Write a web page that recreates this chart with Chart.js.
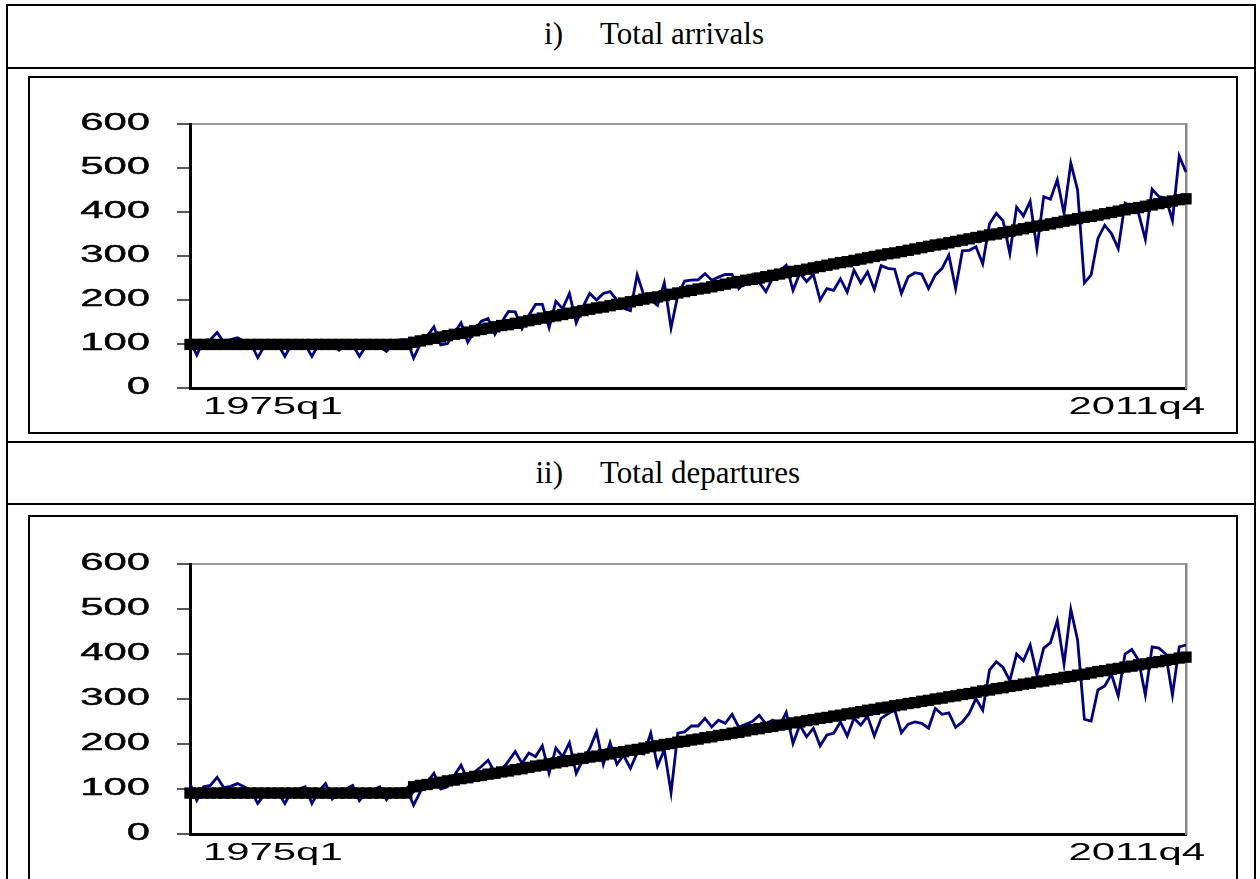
<!DOCTYPE html>
<html>
<head>
<meta charset="utf-8">
<script src="https://cdn.jsdelivr.net/npm/chart.js@4.4.1/dist/chart.umd.min.js"></script>
<style>
  html, body { margin: 0; padding: 0; background: #fff; overflow: hidden; }
  body { width: 1260px; height: 879px; position: relative; font-family: "Liberation Serif", "Times New Roman", serif; }
  div, span, canvas { box-sizing: border-box; }
  .outer { position: absolute; left: 6px; top: 4px; width: 1250px; height: 900px; border: 2px solid #000; border-bottom: 0; }
  .hr { position: absolute; left: 6px; width: 1250px; height: 2px; background: #000; }
  .frame { position: absolute; left: 28px; width: 1210px; border: 2px solid #000; }
  .num, .cap { position: absolute; font-size: 31px; line-height: 31px; color: #000; white-space: nowrap; }
  .num { right: 697px; }
  .cap { left: 600px; }
  canvas { position: absolute; left: 30px; }
</style>
</head>
<body>
<div class="outer"></div>
<div class="hr" style="top:67px"></div>
<div class="hr" style="top:441px"></div>
<div class="hr" style="top:503px"></div>

<span class="num" style="top:18px">i)</span>
<span class="cap" style="top:18px">Total arrivals</span>
<span class="num" style="top:457px">ii)</span>
<span class="cap" style="top:457px">Total departures</span>

<div class="frame" style="top:76px;height:358px"></div>
<div class="frame" style="top:515px;height:380px"></div>
<canvas id="arrivalsChart" width="1206" height="354" style="top:78px"></canvas>
<canvas id="departuresChart" width="1206" height="362" style="top:517px"></canvas>

<script>
// quarterly categories 1975q1 .. 2011q4
const firstYear = 1975;
const lastYear = 2011;
const quarters = [];
for (let yr = firstYear; yr <= lastYear; yr++) {
    for (let q = 1; q <= 4; q++) quarters.push(yr + 'q' + q);
}

const xTickLabels = ['1975q1', '2011q4'];
const yMin = 0;
const yMax = 600;
const yStep = 100;

const arrivals = [
    108, 75, 108, 110, 126, 104, 110, 114, 106, 100,
    69, 96, 104, 99, 72, 100, 104, 98, 72, 100,
    102, 98, 86, 100, 98, 72, 96, 100, 94, 83,
    100, 110, 110, 68, 100, 118, 139, 98, 101, 125,
    148, 104, 130, 152, 158, 122, 150, 174, 173, 135,
    165, 190, 190, 137, 197, 180, 215, 148, 185, 215,
    200, 215, 219, 200, 181, 176, 257, 210, 200, 188,
    239, 137, 211, 243, 245, 246, 260, 245, 252, 258,
    258, 226, 242, 258, 240, 219, 250, 266, 279, 222,
    261, 242, 258, 200, 226, 222, 248, 218, 268, 239,
    264, 224, 278, 272, 270, 215, 253, 262, 259, 226,
    257, 272, 302, 226, 312, 313, 321, 282, 373, 397,
    380, 306, 411, 391, 424, 317, 435, 429, 473, 397,
    511, 450, 239, 257, 340, 370, 351, 317, 420, 412,
    397, 338, 452, 435, 432, 381, 527, 491
];

const arrivalsTrend = [
    99, 99, 99, 99, 99, 99, 99, 99, 99, 99,
    99, 99, 99, 99, 99, 99, 99, 99, 99, 99,
    99, 99, 99, 99, 99, 99, 99, 99, 99, 99,
    99, 99, 99,
    104, 107, 110, 113, 116, 119, 122, 124, 127, 130,
    133, 136, 139, 142, 144, 147, 150, 153, 156, 159,
    162, 164, 167, 170, 173, 176, 179, 182, 184, 187,
    190, 193, 196, 199, 202, 205, 207, 210, 213, 216,
    219, 222, 225, 227, 230, 233, 236, 239, 242, 245,
    247, 250, 253, 256, 259, 262, 265, 267, 270, 273,
    276, 279, 282, 285, 287, 290, 293, 296, 299, 302,
    305, 307, 310, 313, 316, 319, 322, 325, 327, 330,
    333, 336, 339, 342, 345, 348, 350, 353, 356, 359,
    362, 365, 368, 370, 373, 376, 379, 382, 385, 388,
    390, 393, 396, 399, 402, 405, 408, 410, 413, 416,
    419, 422, 425, 428, 430
];

const departures = [
    112, 75, 105, 108, 126, 103, 106, 112, 105, 95,
    68, 88, 96, 92, 68, 95, 100, 105, 68, 95,
    112, 78, 95, 100, 108, 74, 92, 98, 105, 76,
    95, 100, 100, 64, 94, 115, 135, 100, 105, 130,
    153, 120, 138, 150, 164, 135, 142, 162, 183, 157,
    180, 172, 196, 135, 191, 172, 203, 135, 165, 190,
    227, 155, 203, 155, 175, 146, 180, 178, 224, 151,
    187, 92, 224, 227, 240, 240, 257, 238, 253, 246,
    266, 237, 244, 250, 264, 245, 253, 240, 270, 201,
    242, 216, 235, 196, 220, 224, 249, 218, 257, 242,
    262, 218, 257, 267, 276, 225, 244, 249, 246, 235,
    279, 266, 269, 237, 249, 268, 301, 275, 364, 383,
    370, 341, 400, 385, 420, 353, 413, 425, 474, 378,
    499, 431, 255, 251, 320, 329, 355, 307, 400, 410,
    386, 309, 416, 413, 400, 309, 416, 420
];

const departuresTrend = [
    91, 91, 91, 91, 91, 91, 91, 91, 91, 91,
    91, 91, 91, 91, 91, 91, 91, 91, 91, 91,
    91, 91, 91, 91, 91, 91, 91, 91, 91, 91,
    91, 91, 91,
    105, 108, 110, 113, 115, 118, 120, 123, 125, 128,
    130, 133, 135, 138, 140, 143, 145, 148, 151, 153,
    156, 158, 161, 163, 166, 168, 171, 173, 176, 178,
    181, 183, 186, 188, 191, 194, 196, 199, 201, 204,
    206, 209, 211, 214, 216, 219, 221, 224, 226, 229,
    232, 234, 237, 239, 242, 244, 247, 249, 252, 254,
    257, 259, 262, 264, 267, 269, 272, 275, 277, 280,
    282, 285, 287, 290, 292, 295, 297, 300, 302, 305,
    307, 310, 312, 315, 318, 320, 323, 325, 328, 330,
    333, 335, 338, 340, 343, 345, 348, 350, 353, 355,
    358, 361, 363, 366, 368, 371, 373, 376, 378, 381,
    383, 386, 388, 391, 393
];

// the axis text in the original is stretched sideways, so draw it scaled
const STRETCH = 1.82;

function wideText(ctx, text, x, y, align, weight) {
    ctx.save();
    ctx.translate(x, y);
    ctx.scale(STRETCH, 1);
    ctx.textAlign = align;
    ctx.fillText(text, 0, 0);
    if (weight) {
        ctx.lineWidth = weight;
        ctx.strokeText(text, 0, 0);
    }
    ctx.restore();
}

const axisText = {
    id: 'axisText',
    afterDraw(chart) {
        const ctx = chart.ctx;
        const xs = chart.scales.x;
        const ys = chart.scales.y;
        ctx.save();
        ctx.fillStyle = '#000';
        ctx.strokeStyle = '#000';
        ctx.font = '23px "Liberation Sans", Arial, sans-serif';
        ctx.textBaseline = 'middle';

        ys.ticks.forEach(function(t) {
            wideText(ctx, String(t.value), ys.left - 27, ys.getPixelForValue(t.value), 'right', 0.4);
        });

        const ly = chart.chartArea.bottom + 20;
        wideText(ctx, xTickLabels[0], xs.getPixelForValue(0) + 13, ly, 'left', 0);
        wideText(ctx, xTickLabels[1], xs.getPixelForValue(quarters.length - 1) + 19, ly, 'right', 0);
        ctx.restore();
    }
};

function makeChart(id, actual, trend, pad) {
    const ctx = document.getElementById(id).getContext('2d');
    return new Chart(ctx, {
        type: 'line',
        data: {
            labels: quarters,
            datasets: [{
                label: 'Trend',
                data: trend,
                borderColor: '#000',
                borderWidth: 10,
                pointStyle: 'rect',
                pointRadius: 8,
                pointBackgroundColor: '#000',
                pointBorderWidth: 0,
                tension: 0,
                clip: false
            }, {
                label: 'Actual',
                data: actual,
                borderColor: '#000080',
                borderWidth: 2.8,
                pointRadius: 0,
                tension: 0
            }]
        },
        plugins: [axisText],
        options: {
            responsive: false,
            animation: false,
            layout: { padding: pad },
            plugins: {
                legend: { display: false },
                tooltip: { enabled: false }
            },
            scales: {
                x: {
                    type: 'category',
                    offset: false,
                    grid: { display: false, drawTicks: false },
                    ticks: { display: false },
                    border: { color: '#000', width: 3 },
                    afterFit: function(s) { s.height = 0; }
                },
                y: {
                    min: yMin,
                    max: yMax,
                    ticks: { display: false, stepSize: yStep },
                    grid: {
                        color: function(c) { return c.tick && c.tick.value === yMax ? '#9a9a9a' : 'rgba(0,0,0,0)'; },
                        lineWidth: 2,
                        tickLength: 13,
                        tickColor: '#222',
                        tickWidth: 1.5
                    },
                    border: { color: '#000', width: 3 },
                    afterFit: function(s) { s.width = 13; }
                },
                yRight: {
                    position: 'right',
                    min: yMin,
                    max: yMax,
                    ticks: { display: false },
                    grid: { display: false, drawTicks: false },
                    border: { color: '#8a8a8a', width: 2.5 },
                    afterFit: function(s) { s.width = 0; }
                }
            }
        }
    });
}

makeChart('arrivalsChart', arrivals, arrivalsTrend, { left: 147, right: 50, top: 46, bottom: 44 });
makeChart('departuresChart', departures, departuresTrend, { left: 147, right: 50, top: 47, bottom: 45 });
</script>
</body>
</html>
